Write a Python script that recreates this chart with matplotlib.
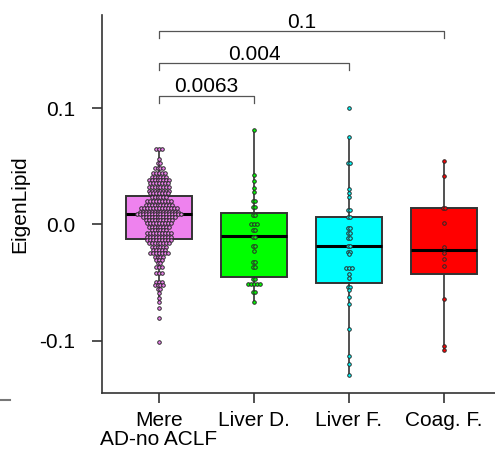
import numpy as np
import matplotlib
matplotlib.use("Agg")
import matplotlib.pyplot as plt
from matplotlib.lines import Line2D

plt.rcParams['font.family'] = ['Liberation Sans', 'DejaVu Sans']

# ---------------- data ----------------
categories = ["Mere\nAD-no ACLF", "Liver D.", "Liver F.", "Coag. F."]
colors = ["#EE82EE", "#00FF00", "#00FFFF", "#FF0000"]

box_q1 = [-0.0125, -0.0453, -0.0500, -0.0427]
box_med = [0.0088, -0.0102, -0.0185, -0.0219]
box_q3 = [0.0248, 0.0102, 0.0065, 0.0145]
whisker_lo = [-0.0665, -0.0668, -0.1297, -0.1080]
whisker_hi = [0.0651, 0.0815, 0.0757, 0.0547]

# dot-plot rows: (value, number of stacked dots)
mere_rows = [0.0651, 0.0562, 0.0527, 0.0484, 0.0441, 0.0412, 0.0384, 0.0355, 0.0326,
             0.0291, 0.0269, 0.0240, 0.0203, 0.0168, 0.0140, 0.0110, 0.0088, 0.0062,
             0.0039, 0.0010, -0.0019, -0.0047, -0.0076, -0.0105, -0.0134, -0.0162,
             -0.0191, -0.0220, -0.0248, -0.0277, -0.0306, -0.0335, -0.0364, -0.0421,
             -0.0493, -0.0522, -0.0559, -0.0593, -0.0636, -0.0665, -0.0717, -0.0803,
             -0.1010]
mere_counts = [3, 1, 2, 4, 5, 6, 8, 7, 8,
               8, 7, 6, 9, 10, 13, 14, 16, 12,
               10, 9, 8, 6, 9, 9, 9, 8,
               6, 5, 7, 4, 3, 2, 3, 3,
               3, 4, 2, 1, 1, 1, 1, 1,
               1]

liverd_rows = [0.0815, 0.0427, 0.0378, 0.0317, 0.0283, 0.0205, 0.0148, 0.0082, 0.0004,
               -0.0047, -0.0105, -0.0185, -0.0226, -0.0321, -0.0364, -0.0467, -0.0513,
               -0.0580, -0.0668]
liverd_counts = [1, 1, 1, 1, 1, 2, 2, 2, 3,
                 2, 2, 2, 1, 2, 2, 2, 5,
                 2, 1]

liverf_rows = [0.1002, 0.0757, 0.0527, 0.0303, 0.0269, 0.0240, 0.0125, 0.0067, -0.0033,
               -0.0076, -0.0119, -0.0185, -0.0234, -0.0254, -0.0372, -0.0427, -0.0464,
               -0.0536, -0.0565, -0.0628, -0.0688, -0.0903, -0.1134, -0.1203, -0.1297]
liverf_counts = [1, 1, 2, 1, 1, 1, 2, 2, 2,
                 2, 2, 2, 2, 1, 3, 1, 1,
                 2, 1, 1, 1, 1, 1, 1, 1]

coag_rows = [0.0547, 0.0420, 0.0145, 0.0013, -0.0190, -0.0248, -0.0300, -0.0355,
             -0.0640, -0.1047, -0.1080]
coag_counts = [1, 1, 2, 1, 1, 1, 1, 1, 1, 1, 1]

group_rows = [mere_rows, liverd_rows, liverf_rows, coag_rows]
group_counts = [mere_counts, liverd_counts, liverf_counts, coag_counts]

bracket_pairs = [(0, 1), (0, 2), (0, 3)]
bracket_labels = ["0.0063", "0.004", "0.1"]
bracket_y = [0.1108, 0.1390, 0.1662]
bracket_drop = 0.0060

ytick_vals = [-0.1, 0.0, 0.1]
ytick_labels = ["-0.1", "0.0", "0.1"]

FS = 15

# ---------------- figure ----------------
fig = plt.figure(figsize=(4.95, 4.54), dpi=100)
ax = fig.add_axes([0.2055, 0.1337, 0.7945, 0.8333])

positions = np.arange(len(categories))
stats = []
for i in range(len(categories)):
    stats.append(dict(med=box_med[i], q1=box_q1[i], q3=box_q3[i],
                      whislo=whisker_lo[i], whishi=whisker_hi[i], fliers=[]))

bp = ax.bxp(stats, positions=positions, widths=0.7, patch_artist=True,
            showcaps=False, showfliers=False,
            boxprops=dict(edgecolor="#333333", linewidth=1.4),
            whiskerprops=dict(color="#333333", linewidth=1.2),
            medianprops=dict(color="black", linewidth=2.2), zorder=2)
for patch, c in zip(bp['boxes'], colors):
    patch.set_facecolor(c)

step = 0.031
for i, (rows, counts) in enumerate(zip(group_rows, group_counts)):
    xs, ys = [], []
    for v, n in zip(rows, counts):
        offs = (np.arange(n) - (n - 1) / 2.0) * step
        xs.extend(positions[i] + offs)
        ys.extend([v] * n)
    ax.scatter(xs, ys, s=6.5, facecolor=colors[i], edgecolor="#2a2a2a",
               linewidth=0.7, zorder=3)

# significance brackets
for (a, b), lab, yb in zip(bracket_pairs, bracket_labels, bracket_y):
    ax.plot([positions[a], positions[a], positions[b], positions[b]],
            [yb - bracket_drop, yb, yb, yb - bracket_drop],
            color="#555555", linewidth=0.9, zorder=4)
    ax.text((positions[a] + positions[b]) / 2.0, yb - 0.0005, lab,
            ha="center", va="bottom", fontsize=FS)

ax.set_xlim(-0.603, 3.537)
ax.set_ylim(-0.1454, 0.1804)
ax.set_xticks(positions)
ax.set_xticklabels(categories, fontsize=FS, linespacing=0.95)
ax.set_yticks(ytick_vals)
ax.set_yticklabels(ytick_labels, fontsize=FS)
ax.set_ylabel("EigenLipid", fontsize=FS, labelpad=7)

for s in ["top", "right"]:
    ax.spines[s].set_visible(False)
for s in ["left", "bottom"]:
    ax.spines[s].set_color("#333333")
    ax.spines[s].set_linewidth(1.2)
ax.tick_params(axis="both", length=7, width=1.2, color="#333333")
ax.tick_params(axis="y", pad=12)
ax.tick_params(axis="x", pad=6)

fig.add_artist(Line2D([0, 10 / 495], [1 - 400 / 454, 1 - 400 / 454],
                      color="#777777", linewidth=1.5))

fig.savefig("out.png", dpi=100)
